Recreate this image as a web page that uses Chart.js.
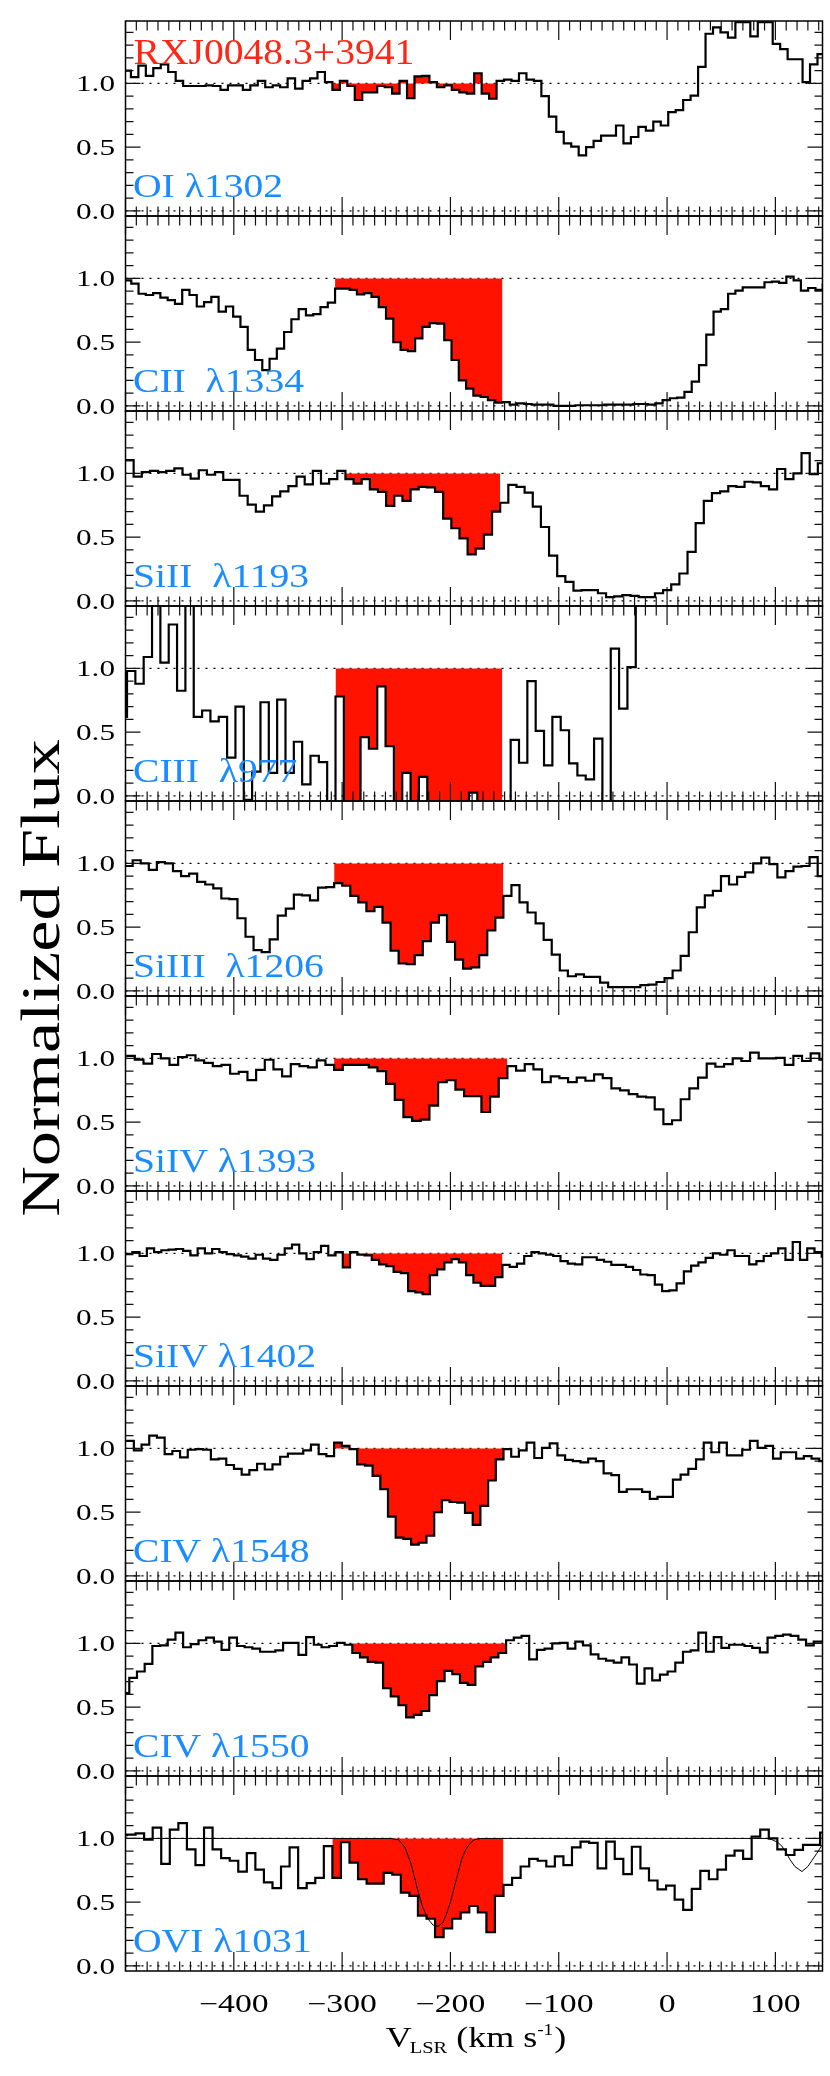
<!DOCTYPE html>
<html><head><meta charset="utf-8">
<script src="https://cdn.jsdelivr.net/npm/chart.js@4.4.1/dist/chart.umd.min.js"></script>
<style>
html,body{margin:0;padding:0;background:#fff;}
#wrap{position:relative;width:830px;height:2076px;overflow:hidden;background:#fff;}
#wrap canvas{position:absolute;left:0;top:0;}
</style></head><body><div id="wrap"></div>
<script>
// ---------- axis ranges & ticks ----------
const VEL_MIN = -500, VEL_MAX = 143.5;
const FLUX_MIN = -0.04, FLUX_MAX = 1.49;
const VEL_TICKS = [-400, -300, -200, -100, 0, 100];
const VEL_TICK_LABELS = ['\u2212400', '\u2212300', '\u2212200', '\u2212100', '0', '100'];
const FLUX_TICKS = [0, 0.5, 1.0];
const FLUX_TICK_LABELS = ['0.0', '0.5', '1.0'];
const TARGET_NAME = 'RXJ0048.3+3941';
const X_TITLE_PARTS = ['V', 'LSR', ' (km s', '-1', ')'];
const Y_TITLE = 'Normalized Flux';

// ---------- panels ----------
const LINE_NAMES = ['OI \u03bb1302', 'CII  \u03bb1334', 'SiII  \u03bb1193', 'CIII  \u03bb977', 'SiIII  \u03bb1206',
                    'SiIV \u03bb1393', 'SiIV \u03bb1402', 'CIV \u03bb1548', 'CIV \u03bb1550', 'OVI \u03bb1031'];
// left edge of first velocity bin (km/s) and bin width (km/s) for each spectrum
const BIN_START = [-501.9, -501.4, -500.0, -506.3, -500.8, -499.4, -500.4, -499.4, -503.6, -506.5];
const BIN_WIDTH = [6.89, 6.72, 7.52, 7.70, 7.44, 8.00, 6.70, 7.11, 7.10, 7.90];
// bins shaded red (integration range), [from, to)
const RED_FROM = [28, 29, 27, 26, 26, 24, 29, 27, 30, 25];
const RED_TO   = [50, 52, 46, 46, 47, 44, 52, 49, 50, 45];

const FLUX_OI_1302 = [1.10,1.05,1.14,1.06,1.12,1.15,1.09,1.02,0.98,0.98,
 0.98,0.985,0.98,0.95,0.985,0.985,0.95,0.985,1.02,0.97,
 0.985,0.97,1.04,0.96,1.02,1.04,1.09,1.01,0.95,1.02,
 0.98,0.87,0.93,0.93,0.98,0.97,0.92,1.02,0.885,1.055,
 1.06,1.01,0.97,0.985,0.95,0.93,0.92,1.08,0.92,0.88,
 1.02,1.03,1.02,1.08,1.03,1.02,0.90,0.74,0.62,0.53,
 0.505,0.435,0.50,0.55,0.59,0.59,0.67,0.53,0.58,0.66,
 0.63,0.70,0.67,0.775,0.79,0.87,0.905,1.13,1.39,1.44,
 1.40,1.36,1.48,1.48,1.37,1.48,1.48,1.31,1.27,1.19,
 1.19,1.01,1.15,1.23];
const FLUX_CII_1334 = [0.985,0.96,0.88,0.87,0.885,0.85,0.83,0.80,0.91,0.87,
 0.78,0.815,0.855,0.74,0.78,0.70,0.62,0.44,0.36,0.28,
 0.37,0.45,0.58,0.68,0.76,0.71,0.72,0.775,0.81,0.92,
 0.92,0.91,0.875,0.885,0.855,0.775,0.685,0.50,0.44,0.43,
 0.53,0.62,0.65,0.645,0.515,0.36,0.20,0.135,0.08,0.07,
 0.045,0.025,0.03,0.01,0.02,0.015,0.01,0.01,0.01,0.0,
 0.0,0.0,0.005,0.005,0.005,0.005,0.01,0.01,0.01,0.01,
 0.015,0.015,0.01,0.02,0.045,0.06,0.065,0.11,0.19,0.32,
 0.56,0.74,0.76,0.88,0.905,0.93,0.93,0.93,0.97,0.975,
 0.965,1.015,0.985,0.905,0.925,0.91,0.96];
const FLUX_SIII_1193 = [1.105,0.975,1.01,1.02,1.01,1.02,1.04,0.99,0.96,1.025,
 0.99,1.01,0.95,0.95,0.825,0.755,0.70,0.75,0.82,0.86,
 0.90,0.975,0.915,1.02,0.92,0.955,1.02,0.955,0.92,0.955,
 0.875,0.855,0.745,0.825,0.785,0.875,0.895,0.89,0.855,0.645,
 0.57,0.49,0.365,0.41,0.52,0.70,0.77,0.91,0.895,0.85,
 0.74,0.58,0.355,0.195,0.15,0.08,0.085,0.085,0.06,0.03,
 0.035,0.045,0.04,0.03,0.03,0.06,0.085,0.13,0.215,0.385,
 0.61,0.785,0.845,0.86,0.90,0.895,0.935,0.93,0.90,0.875,
 1.035,0.955,1.0,1.16,0.995,1.08];
const FLUX_CIII_977 = [0.62,0.98,0.88,1.09,1.55,1.045,1.345,0.825,1.55,0.62,
 0.67,0.585,0.62,0.30,0.70,-0.03,0.19,0.735,0.18,0.755,
 0.18,0.425,0.09,0.315,0.265,-0.05,0.78,-0.05,-0.05,0.46,
 0.37,0.86,0.39,-0.05,0.18,-0.05,0.15,-0.05,-0.05,-0.045,
 -0.045,-0.05,0.025,-0.05,-0.05,-0.05,-0.05,0.44,0.26,0.90,
 0.51,0.24,0.62,0.515,0.255,0.16,0.13,0.45,-0.05,1.155,
 0.685,1.01,2.0];
const FLUX_SIIII_1206 = [0.98,1.025,1.0,0.95,1.01,1.0,0.94,0.90,0.92,0.855,
 0.835,0.805,0.725,0.72,0.57,0.425,0.32,0.305,0.405,0.59,
 0.645,0.755,0.75,0.71,0.81,0.815,0.845,0.825,0.745,0.695,
 0.625,0.66,0.535,0.315,0.215,0.21,0.28,0.39,0.535,0.595,
 0.385,0.245,0.175,0.185,0.28,0.475,0.575,0.745,0.83,0.695,
 0.615,0.53,0.40,0.285,0.16,0.115,0.13,0.11,0.11,0.065,
 0.03,0.03,0.03,0.03,0.045,0.05,0.07,0.10,0.16,0.275,
 0.46,0.655,0.75,0.785,0.90,0.835,0.895,0.93,1.0,1.045,
 0.995,0.89,0.94,0.975,0.98,1.05,0.90];
const FLUX_SIIV_1393 = [1.02,0.99,0.96,1.035,1.0,0.95,1.01,1.025,0.985,0.965,
 0.94,0.95,0.88,0.895,0.83,0.91,0.99,0.915,0.86,0.955,
 0.94,0.93,0.985,0.95,0.91,0.95,0.95,0.95,0.93,0.90,
 0.80,0.675,0.54,0.51,0.52,0.63,0.815,0.83,0.755,0.705,
 0.705,0.58,0.70,0.845,0.94,0.905,0.955,0.915,0.815,0.86,
 0.845,0.815,0.85,0.825,0.875,0.845,0.765,0.75,0.72,0.70,
 0.695,0.60,0.485,0.515,0.68,0.765,0.85,0.96,0.935,0.955,
 1.0,0.98,1.045,1.0,1.0,1.005,0.95,1.02,0.98,1.04,
 0.99];
const FLUX_SIIV_1402 = [0.995,1.01,0.98,1.04,1.01,1.025,1.03,1.035,1.02,0.985,
 1.04,1.0,1.035,1.01,0.995,0.985,0.975,0.96,0.99,0.96,
 0.95,0.99,1.04,1.07,1.0,0.955,1.01,1.06,0.985,1.01,
 0.89,1.01,0.99,0.985,0.95,0.915,0.90,0.855,0.845,0.705,
 0.695,0.68,0.83,0.875,0.93,0.955,0.93,0.83,0.77,0.745,
 0.745,0.815,0.91,0.895,0.92,0.98,1.01,1.0,0.99,0.98,
 0.94,0.92,0.915,0.97,0.97,0.95,0.935,0.91,0.91,0.895,
 0.87,0.835,0.83,0.755,0.705,0.71,0.765,0.86,0.905,0.93,
 0.965,1.0,0.99,1.025,0.98,0.98,0.915,0.94,0.98,1.0,
 1.04,0.95,1.09,0.95,1.04,1.01,0.975];
const FLUX_CIV_1548 = [1.06,0.985,1.03,1.10,1.085,0.955,0.98,0.93,0.99,0.995,
 0.99,0.915,0.92,0.87,0.84,0.795,0.83,0.88,0.835,0.875,
 0.935,0.96,0.96,0.985,1.03,0.955,0.94,1.045,1.02,0.995,
 0.875,0.865,0.785,0.68,0.465,0.30,0.29,0.245,0.26,0.315,
 0.50,0.595,0.58,0.575,0.495,0.40,0.55,0.75,0.915,0.995,
 0.935,0.985,1.045,0.925,1.005,1.04,0.945,0.91,0.90,0.89,
 0.92,0.90,0.805,0.79,0.66,0.68,0.68,0.66,0.605,0.62,
 0.62,0.755,0.795,0.84,0.915,1.045,0.97,1.045,0.945,0.945,
 0.99,1.06,1.005,1.02,0.92,0.97,0.97,0.92,0.94,0.92,
 0.90,1.02];
const FLUX_CIV_1550 = [0.61,0.73,0.78,0.84,0.98,0.985,1.03,1.085,0.97,0.995,
 1.025,1.045,1.015,0.95,1.045,0.98,0.97,0.96,0.935,0.935,
 0.945,1.005,1.005,0.91,1.05,0.99,0.97,0.98,1.005,0.99,
 0.925,0.89,0.855,0.85,0.65,0.585,0.515,0.42,0.44,0.47,
 0.595,0.705,0.785,0.76,0.69,0.675,0.82,0.855,0.89,0.925,
 1.025,1.045,1.06,0.875,0.95,0.96,1.0,1.005,0.96,1.015,
 0.985,0.915,0.88,0.865,0.85,0.89,0.835,0.685,0.805,0.71,
 0.755,0.78,0.85,0.935,0.945,1.085,0.935,1.05,0.965,0.99,
 0.99,0.98,0.965,0.93,1.045,1.06,1.07,1.06,1.03,0.985,
 1.015,1.015];
const FLUX_OVI_1031 = [1.025,1.03,1.04,0.99,1.085,0.80,1.07,1.12,0.915,0.79,
 1.085,0.915,0.845,0.825,0.74,0.885,0.755,0.655,0.61,0.78,
 0.93,0.61,0.65,0.69,0.94,0.69,0.97,0.81,0.68,0.645,
 0.645,0.73,0.715,0.575,0.55,0.395,0.37,0.225,0.295,0.37,
 0.42,0.47,0.42,0.265,0.55,0.635,0.69,0.78,0.84,0.825,
 0.78,0.86,0.79,0.93,0.975,0.965,0.765,0.975,0.84,0.72,
 0.935,0.765,0.67,0.60,0.63,0.52,0.44,0.605,0.745,0.68,
 0.755,0.865,0.905,0.84,1.015,1.07,1.0,0.915,0.87,0.91,
 0.95,0.95,1.045];
// OVI absorption model (thin line)
const MODEL_VEL  = [-500,-255,-248,-242,-236,-231,-226,-221,-216,-211.5,-207,-204,-200,-197,-193,-189.5,-186,-182,-178,-172,
                    92,97,102,106,110,113,118,124.5,130,134,138,144];
const MODEL_FLUX = [1.0,1.0,0.99,0.93,0.79,0.62,0.47,0.37,0.32,0.31,0.34,0.40,0.50,0.60,0.73,0.84,0.91,0.96,0.99,1.0,
                    1.0,0.99,0.97,0.94,0.89,0.84,0.78,0.74,0.78,0.83,0.88,0.96];

const SERIES = [FLUX_OI_1302, FLUX_CII_1334, FLUX_SIII_1193, FLUX_CIII_977, FLUX_SIIII_1206,
                FLUX_SIIV_1393, FLUX_SIIV_1402, FLUX_CIV_1548, FLUX_CIV_1550, FLUX_OVI_1031];

// ---------- layout / style ----------
const PAGE_W = 830, PAGE_H = 2076;
const PANEL_TOP0 = 21, PANEL_H = 195, AREA_LEFT = 125.5, AREA_RIGHT = 822.5;
const RED = '#ff1200', LABEL_BLUE = '#1a8cff', TITLE_RED = '#ff2614';
const SERIF = '"Liberation Serif", "Times New Roman", serif';

function txt(ctx, s, x, y, size, color, align, sx) {
  ctx.save();
  ctx.font = size + 'px ' + SERIF;
  ctx.fillStyle = color;
  ctx.textAlign = align;
  ctx.textBaseline = 'alphabetic';
  ctx.translate(x, y);
  ctx.scale(sx, 1);
  ctx.fillText(s, 0, 0);
  ctx.restore();
}
function measure(ctx, s, size, sx) {
  ctx.save(); ctx.font = size + 'px ' + SERIF; const w = ctx.measureText(s).width * sx; ctx.restore(); return w;
}

function makeDeco(p) {
  return {
    id: 'deco' + p,
    beforeDatasetsDraw(chart) {
      const {ctx, chartArea: a, scales: {y}} = chart;
      ctx.save();
      ctx.strokeStyle = '#000'; ctx.lineWidth = 1.2; ctx.setLineDash([2, 6]);
      [0, 1].forEach(v => {
        const py = y.getPixelForValue(v);
        ctx.beginPath(); ctx.moveTo(a.left, py); ctx.lineTo(a.right, py); ctx.stroke();
      });
      ctx.restore();
    },
    afterDatasetsDraw(chart) {
      const {ctx, chartArea: a, scales: {x, y}} = chart;
      ctx.save();
      ctx.strokeStyle = '#111'; ctx.lineWidth = 1.2;
      ctx.beginPath();
      for (let k = -50; k <= 14; k++) {
        const v = k * 10; if (v < VEL_MIN || v > VEL_MAX) continue;
        const px = x.getPixelForValue(v);
        const len = (k % 10 === 0) ? 19 : 9.5;
        ctx.moveTo(px, a.bottom); ctx.lineTo(px, a.bottom - len);
        ctx.moveTo(px, a.top); ctx.lineTo(px, a.top + len);
      }
      for (let k = 0; k <= 14; k++) {
        const py = y.getPixelForValue(k / 10);
        const len = (k % 5 === 0) ? 15 : 8;
        ctx.moveTo(a.left, py); ctx.lineTo(a.left + len, py);
        ctx.moveTo(a.right, py); ctx.lineTo(a.right - len, py);
      }
      ctx.stroke();
      ctx.strokeStyle = '#000'; ctx.lineWidth = 1.5;
      ctx.strokeRect(a.left, a.top, a.right - a.left, a.bottom - a.top);
      ctx.restore();
    },
    afterDraw(chart) {
      const {ctx, chartArea: a, scales: {x, y}} = chart;
      FLUX_TICKS.forEach((v, i) => {
        txt(ctx, FLUX_TICK_LABELS[i], a.left - 10.5, y.getPixelForValue(v) + 8, 24, '#000', 'right', 1.3);
      });
      txt(ctx, LINE_NAMES[p], a.left + 7.5, a.top + 176, 33, LABEL_BLUE, 'left', 1.2);
      if (p === 0) {
        txt(ctx, TARGET_NAME, a.left + 8, a.top + 42.5, 36, TITLE_RED, 'left', 1.1);
        // y-axis title
        ctx.save();
        ctx.translate(59, 978);
        ctx.rotate(-Math.PI / 2);
        ctx.scale(1.3, 1);
        ctx.font = '54px ' + SERIF; ctx.fillStyle = '#000';
        ctx.textAlign = 'center'; ctx.textBaseline = 'alphabetic';
        ctx.fillText(Y_TITLE, 0, 0);
        ctx.restore();
      }
      if (p === SERIES.length - 1) {
        VEL_TICKS.forEach((v, i) => {
          txt(ctx, VEL_TICK_LABELS[i], x.getPixelForValue(v), 2012, 25, '#000', 'center', 1.35);
        });
        // x-axis title: V_LSR (km s^-1)
        const sx = 1.2, base = 2047;
        const sizes = [30, 17, 30, 16, 30];
        const dy = [0, 6, 0, -12, 0];
        const gaps = [-2, 0, 0, 1, 0];
        let total = 0;
        X_TITLE_PARTS.forEach((s, i) => { total += measure(ctx, s, sizes[i], sx) + gaps[i]; });
        let cx = (a.left + a.right) / 2 + 2 - total / 2;
        X_TITLE_PARTS.forEach((s, i) => {
          txt(ctx, s, cx, base + dy[i], sizes[i], '#000', 'left', sx);
          cx += measure(ctx, s, sizes[i], sx) + gaps[i];
        });
      }
    }
  };
}

const wrap = document.getElementById('wrap');
SERIES.forEach((vals, p) => {
  const cv = document.createElement('canvas');
  cv.width = PAGE_W; cv.height = PAGE_H;
  cv.style.width = PAGE_W + 'px'; cv.style.height = PAGE_H + 'px';
  wrap.appendChild(cv);
  const top = PANEL_TOP0 + p * PANEL_H;
  const edge = k => BIN_START[p] + k * BIN_WIDTH[p];
  const spec = vals.map((f, k) => ({x: edge(k), y: f}));
  spec.push({x: edge(vals.length), y: vals[vals.length - 1]});
  const red = [];
  for (let k = RED_FROM[p]; k < RED_TO[p]; k++) red.push({x: edge(k), y: vals[k]});
  red.push({x: edge(RED_TO[p]), y: vals[RED_TO[p] - 1]});

  const datasets = [{
    data: spec, stepped: 'before', borderColor: '#000', borderWidth: 2.2,
    fill: false, pointRadius: 0, clip: 0
  }];
  if (p === SERIES.length - 1) {
    datasets.push({
      data: MODEL_VEL.map((v, k) => ({x: v, y: MODEL_FLUX[k]})),
      borderColor: '#000', borderWidth: 1, fill: false, pointRadius: 0, tension: 0, clip: 0
    });
  }
  datasets.push({
    data: red, stepped: 'before', borderColor: 'rgba(0,0,0,0)', borderWidth: 0,
    backgroundColor: RED, fill: {value: 1}, pointRadius: 0, clip: 0
  });

  new Chart(cv, {
    type: 'line',
    data: {datasets},
    options: {
      responsive: false, maintainAspectRatio: false, animation: false, devicePixelRatio: 1, events: [],
      layout: {padding: {left: AREA_LEFT, right: PAGE_W - AREA_RIGHT, top: top, bottom: PAGE_H - top - PANEL_H}},
      scales: {
        x: {type: 'linear', min: VEL_MIN, max: VEL_MAX, display: false},
        y: {type: 'linear', min: FLUX_MIN, max: FLUX_MAX, display: false}
      },
      plugins: {legend: {display: false}, tooltip: {enabled: false}, title: {display: false}},
      elements: {point: {radius: 0}, line: {tension: 0}}
    },
    plugins: [makeDeco(p)]
  });
});
</script></body></html>
